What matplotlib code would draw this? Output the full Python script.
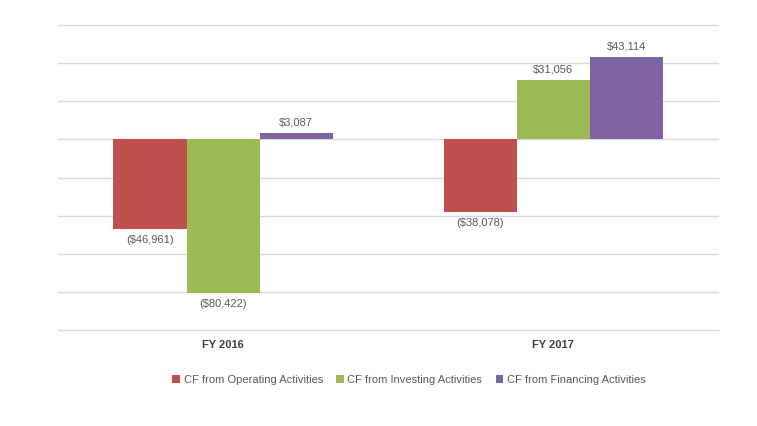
import matplotlib
matplotlib.use("Agg")
import matplotlib.pyplot as plt
import numpy as np

plt.rcParams['font.family'] = ['Liberation Sans', 'DejaVu Sans']

categories = ["FY 2016", "FY 2017"]
series_names = ["CF from Operating Activities", "CF from Investing Activities", "CF from Financing Activities"]
operating = [-46961, -38078]
investing = [-80422, 31056]
financing = [3087, 43114]
colors = ["#C0504D", "#9BBB59", "#8064A2"]

W, H = 757, 426
fig = plt.figure(figsize=(W/100, H/100), dpi=100)
ax = fig.add_axes([58/W, (H-330)/H, (718-58)/W, (330-25)/H])

x = np.arange(len(categories))
bw = 73/330
text_color = "#404040"
label_color = "#595959"
for i, (name, vals, c) in enumerate(zip(series_names, [operating, investing, financing], colors)):
    pos = x + (i-1)*bw
    ax.bar(pos, vals, width=bw, color=c, label=name, zorder=3)
    for xp, v in zip(pos, vals):
        lab = f"${v:,}" if v >= 0 else f"(${-v:,})"
        off = 8 if v >= 0 else -8
        ax.annotate(lab, (xp, v), xytext=(0, off), textcoords="offset points",
                    ha="center", va="center", fontsize=8, color=label_color)

ax.set_xlim(-0.5, 1.5)
ax.set_ylim(-100000, 60000)
ax.set_yticks(np.arange(-100000, 60001, 20000))
ax.set_yticklabels([])
ax.tick_params(axis='y', length=0)
ax.grid(axis='y', color="#d9d9d9", linewidth=1, zorder=0)
for gl in ax.get_ygridlines():
    gl.set_clip_on(False)
ax.set_xticks(x)
ax.set_xticklabels(categories, fontsize=8, fontweight='bold', color=text_color)
ax.tick_params(axis='x', length=0, pad=7)
for s in ax.spines.values():
    s.set_visible(False)

fig.legend(loc="center", bbox_to_anchor=(409/W, (H-380)/H), ncol=3, frameon=False,
           fontsize=8, handlelength=0.7, handleheight=0.7, handletextpad=0.3,
           columnspacing=1.2, labelcolor=label_color)

fig.savefig("out.png", dpi=100)
